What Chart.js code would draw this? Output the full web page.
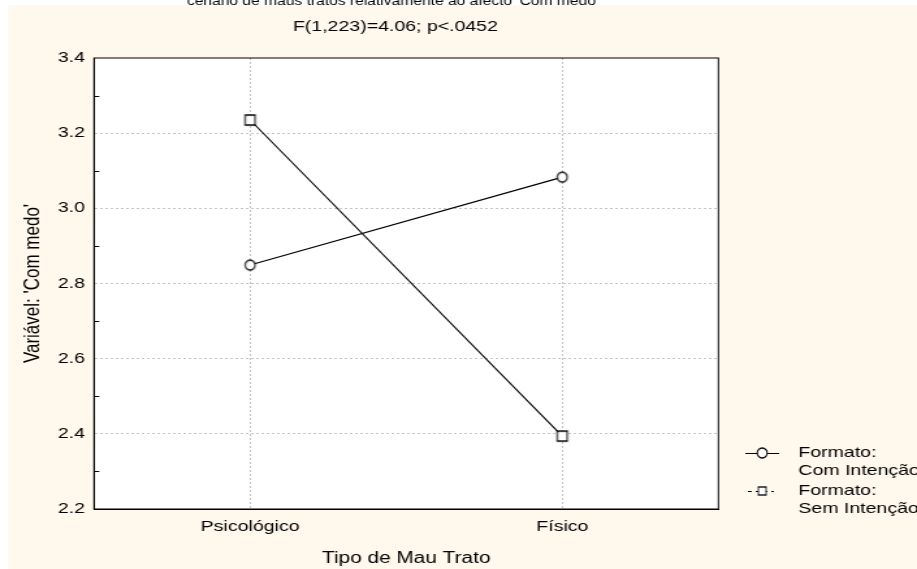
<!DOCTYPE html>
<html lang="pt">
<head>
<meta charset="UTF-8">
<title>Com medo</title>
<script src="https://cdn.jsdelivr.net/npm/chart.js"></script>
<style>
  html, body { margin: 0; padding: 0; background: #ffffff; overflow: hidden; }
</style>
</head>
<body>
<!-- drawn at 705 wide and stretched to 917, like the squeezed export -->
<canvas id="chart" width="705" height="569" style="width:917px;height:569px"></canvas>
<script>
var categories = ['Psicológico', 'Físico'];
var comIntencao = [2.849, 3.083];
var semIntencao = [3.235, 2.394];
var yTickLabels = ['2.2', '2.4', '2.6', '2.8', '3.0', '3.2', '3.4'];
var legendLabels = [['Formato:', 'Com Intenção'], ['Formato:', 'Sem Intenção']];
var titleText = "cenário de maus tratos relativamente ao afecto 'Com medo'";
var subtitleText = 'F(1,223)=4.06; p<.0452';

var STRETCH = 917 / 705;
var FONT = "'Liberation Sans', Arial, sans-serif";

Chart.defaults.font.family = FONT;
Chart.defaults.font.size = 15;
Chart.defaults.color = '#000';

// markers pre-squeezed so they come out round after the stretch
function makeMarker(shape, size) {
    var m = document.createElement('canvas');
    m.width = Math.ceil(size / STRETCH) + 2;
    m.height = size + 2;
    var c = m.getContext('2d');
    c.translate(m.width / 2, m.height / 2);
    c.scale(1 / STRETCH, 1);
    c.fillStyle = '#fff';
    c.strokeStyle = '#000';
    c.lineWidth = 1.3;
    c.beginPath();
    var r = size / 2 - 1;
    if (shape === 'circle') c.arc(0, 0, r, 0, Math.PI * 2);
    else c.rect(-r, -r, 2 * r, 2 * r);
    c.fill();
    c.stroke();
    return m;
}
var circleImg = makeMarker('circle', 12);
var squareImg = makeMarker('square', 12);

var framePlugin = {
    id: 'frame',
    beforeDraw: function(chart) {
        var c = chart.ctx, a = chart.chartArea;
        c.save();
        c.fillStyle = '#fff9ed';
        c.fillRect(6.2, 5, chart.width, chart.height);
        c.fillStyle = '#ffffff';
        c.fillRect(a.left, a.top, a.right - a.left, a.bottom - a.top);
        c.fillStyle = '#000';
        c.textAlign = 'center';
        c.font = '12px ' + FONT;
        c.textBaseline = 'alphabetic';
        c.fillText(titleText, 302, 4.5);
        c.font = '15px ' + FONT;
        c.textBaseline = 'middle';
        c.fillText(subtitleText, 304, 27);
        c.restore();
    },
    afterDatasetsDraw: function(chart) {
        var c = chart.ctx, a = chart.chartArea, y = chart.scales.y;
        c.save();
        c.strokeStyle = '#000';
        c.lineWidth = 1;
        // minor ticks pointing inward
        y.ticks.forEach(function(t) {
            if (yTickLabels.indexOf(t.value.toFixed(1)) >= 0) return;
            var py = Math.round(y.getPixelForValue(t.value)) + 0.5;
            c.beginPath();
            c.moveTo(a.left, py);
            c.lineTo(a.left + 4, py);
            c.stroke();
        });
        c.strokeRect(a.left, a.top, a.right - a.left, a.bottom - a.top);
        c.restore();
    },
    afterDraw: function(chart) {
        var c = chart.ctx;
        var rows = [453, 491];
        var marks = [circleImg, squareImg];
        var scaleK = [1, 0.8];
        var lineFrom = [573, 575];
        c.save();
        c.strokeStyle = '#000';
        c.lineWidth = 1;
        rows.forEach(function(ry, i) {
            c.setLineDash(i === 0 ? [] : [3, 3]);
            c.beginPath();
            c.moveTo(lineFrom[i], ry + 0.5);
            c.lineTo(i === 0 ? 599 : 595, ry + 0.5);
            c.stroke();
            var m = marks[i], k = scaleK[i];
            c.drawImage(m, 586 - m.width * k / 2, ry - m.height * k / 2, m.width * k, m.height * k);
            c.fillStyle = '#000';
            c.font = '15px ' + FONT;
            c.textAlign = 'left';
            c.textBaseline = 'middle';
            legendLabels[i].forEach(function(line, j) {
                c.fillText(line, 613.8, ry + j * 18);
            });
        });
        c.restore();
    }
};

new Chart(document.getElementById('chart'), {
    type: 'line',
    data: {
        labels: categories,
        datasets: [{
            label: legendLabels[0].join(' '),
            data: comIntencao,
            borderColor: '#000',
            borderWidth: 1.1,
            backgroundColor: '#fff',
            pointStyle: circleImg,
            pointRadius: 6,
            pointHoverRadius: 6,
            fill: false,
            tension: 0
        }, {
            label: legendLabels[1].join(' '),
            data: semIntencao,
            borderColor: '#000',
            borderWidth: 1.1,
            backgroundColor: '#fff',
            pointStyle: squareImg,
            pointRadius: 6,
            pointHoverRadius: 6,
            fill: false,
            tension: 0
        }]
    },
    options: {
        responsive: false,
        animation: false,
        layout: { padding: { top: 58, right: 152.7, left: 0, bottom: 0 } },
        plugins: {
            legend: { display: false },
            title: { display: false },
            tooltip: { enabled: false }
        },
        scales: {
            x: {
                offset: true,
                grid: { color: '#c4c4c4', drawTicks: false, offset: false },
                border: { color: '#000', dash: [2, 2] },
                ticks: { padding: 9, color: '#000' },
                title: { display: true, text: 'Tipo de Mau Trato', font: { size: 16 }, padding: { top: 0, bottom: 0.5 } },
                afterFit: function(s) { s.height = 60; }
            },
            y: {
                min: 2.2,
                max: 3.4,
                ticks: {
                    stepSize: 0.1,
                    autoSkip: false,
                    padding: 7,
                    color: '#000',
                    callback: function(v) {
                        var s = Number(v).toFixed(1);
                        return yTickLabels.indexOf(s) >= 0 ? s : '';
                    }
                },
                grid: {
                    drawTicks: false,
                    color: function(ctx) {
                        if (!ctx.tick) return 'rgba(0,0,0,0)';
                        var s = ctx.tick.value.toFixed(1);
                        if (s === '2.2' || s === '3.4') return 'rgba(0,0,0,0)';
                        return yTickLabels.indexOf(s) >= 0 ? '#c4c4c4' : 'rgba(0,0,0,0)';
                    }
                },
                border: { color: '#000', dash: [2, 2] },
                title: { display: true, text: "Variável: 'Com medo'", font: { size: 17 }, padding: { top: 15.5, bottom: 0 } },
                afterFit: function(s) { s.width = 72.3; }
            }
        }
    },
    plugins: [framePlugin]
});
</script>
</body>
</html>
